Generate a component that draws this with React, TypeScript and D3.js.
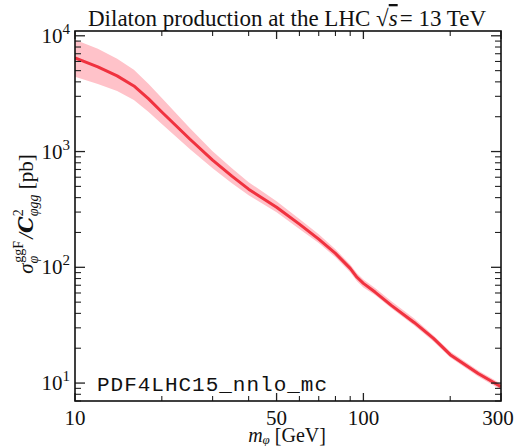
import React from "react";
import * as d3 from "d3";

const masses = [10, 12, 14, 16, 18, 20, 25, 30, 35, 40, 50, 60, 70, 80, 90, 95, 100, 110, 125, 150, 175, 200, 250, 300];
const central = [6450, 5390, 4505, 3690, 2848, 2198, 1283, 843, 613, 473, 330, 236, 175, 132, 98, 82, 72.6, 60.8, 46.9, 33.4, 24.3, 17.6, 12.1, 9.3];
const upper = [9236, 7718, 6325, 5077, 3842, 2906, 1597, 1008, 719, 544, 372, 261, 193, 143, 106, 88.8, 78.6, 65.8, 50.8, 36.2, 25.8, 18.7, 12.85, 9.88];
const lower = [4418, 3839, 3340, 2791, 2198, 1731, 1051, 719, 533, 420, 299, 214, 162, 122, 90.5, 75.7, 67.0, 57.3, 44.2, 31.4, 22.9, 16.6, 11.4, 8.76];

const xMajorTicks = [10, 50, 100, 300];
const xMinorTicks = [20, 30, 40, 60, 70, 80, 90, 200];
const yMajorExps = [1, 2, 3, 4];
const pdfLabel = "PDF4LHC15_nnlo_mc";

const W = 515, H = 446;
const L = 75, R = 501, T = 31, B = 401;
const serif = "'Liberation Serif', 'DejaVu Serif', serif";

export default function App() {
  const x = d3.scaleLog().domain([10, 300]).range([L, R]);
  const y = d3.scaleLog().domain([7, 11000]).range([B, T]);

  const rows = masses.map((m, i) => ({ m, c: central[i], u: upper[i], l: lower[i] }));
  const area = d3.area<any>().x((d) => x(d.m)).y0((d) => y(d.l)).y1((d) => y(d.u));
  const line = d3.line<any>().x((d) => x(d.m)).y((d) => y(d.c));

  const yMinor: number[] = [];
  for (let e = 0; e <= 4; e++) {
    for (let k = 2; k <= 9; k++) {
      const v = k * Math.pow(10, e);
      if (v >= 7 && v <= 11000) yMinor.push(v);
    }
  }

  const tickColor = "#222";
  return (
    <svg width={W} height={H} style={{ position: "absolute", left: 0, top: 0, background: "#fff" }}>
      <defs>
        <clipPath id="plotclip">
          <rect x={L} y={T} width={R - L} height={B - T} />
        </clipPath>
      </defs>
      <g clipPath="url(#plotclip)">
        <path d={area(rows) || ""} fill="#ffc2c9" stroke="none" />
        <path d={line(rows) || ""} fill="none" stroke="#f0323f" strokeWidth={3} strokeLinejoin="round" />
      </g>

      {/* x ticks */}
      {xMajorTicks.map((v) => (
        <g key={"xM" + v}>
          <line x1={x(v)} x2={x(v)} y1={B} y2={B - 8} stroke={tickColor} strokeWidth={1.3} />
          <line x1={x(v)} x2={x(v)} y1={T} y2={T + 8} stroke={tickColor} strokeWidth={1.3} />
          <text x={Math.min(x(v), 498)} y={425} textAnchor="middle" fontFamily={serif} fontSize={21} fill="#111">{v}</text>
        </g>
      ))}
      {xMinorTicks.map((v) => (
        <g key={"xm" + v}>
          <line x1={x(v)} x2={x(v)} y1={B} y2={B - 5} stroke={tickColor} strokeWidth={1.1} />
          <line x1={x(v)} x2={x(v)} y1={T} y2={T + 5} stroke={tickColor} strokeWidth={1.1} />
        </g>
      ))}

      {/* y ticks */}
      {yMajorExps.map((e) => {
        const v = Math.pow(10, e);
        return (
          <g key={"yM" + e}>
            <line x1={L} x2={L + 10} y1={y(v)} y2={y(v)} stroke={tickColor} strokeWidth={1.3} />
            <line x1={R} x2={R - 10} y1={y(v)} y2={y(v)} stroke={tickColor} strokeWidth={1.3} />
            <text x={70} y={y(v) + 7} textAnchor="end" fontFamily={serif} fontSize={21} fill="#111">
              10<tspan fontSize={15} dy={-9}>{e}</tspan>
            </text>
          </g>
        );
      })}
      {yMinor.map((v) => (
        <g key={"ym" + v}>
          <line x1={L} x2={L + 6} y1={y(v)} y2={y(v)} stroke={tickColor} strokeWidth={1.1} />
          <line x1={R} x2={R - 6} y1={y(v)} y2={y(v)} stroke={tickColor} strokeWidth={1.1} />
        </g>
      ))}

      <rect x={L} y={T} width={R - L} height={B - T} fill="none" stroke="#111" strokeWidth={1.6} />

      {/* title */}
      <text x={287} y={26} textAnchor="middle" fontFamily={serif} fontSize={23} fill="#111">
        Dilaton production at the LHC <tspan>√</tspan><tspan fontStyle="italic" style={{ textDecoration: "overline" }}>s</tspan>
        <tspan dx={2}>= 13 TeV</tspan>
      </text>

      {/* x label */}
      <text x={287} y={442} textAnchor="middle" fontFamily={serif} fontSize={20} fill="#111">
        <tspan fontStyle="italic">m</tspan>
        <tspan fontSize={13} fontStyle="italic" dy={2}>φ</tspan>
        <tspan dy={-2}> [GeV]</tspan>
      </text>

      {/* y label */}
      <text transform={`translate(33,214) rotate(-90)`} textAnchor="middle" fontFamily={serif} fontSize={21} fill="#111">
        <tspan fontStyle="italic">σ</tspan>
        <tspan fontSize={14} fontStyle="italic" dy={5}>φ</tspan>
        <tspan fontSize={14} dx={-7} dy={-15}>ggF</tspan>
        <tspan dy={10} dx={2} fontStyle="italic">/</tspan>
        <tspan fontStyle="italic" fontWeight="bold" fontFamily="'DejaVu Serif', serif">C</tspan>
        <tspan fontSize={14} dy={-10}>2</tspan>
        <tspan fontSize={14} fontStyle="italic" dx={-7} dy={15}>φgg</tspan>
        <tspan dy={-5}> [pb]</tspan>
      </text>

      {/* PDF label */}
      <text x={97} y={391} fontFamily="'Liberation Mono', 'DejaVu Sans Mono', monospace" fontSize={21} textLength={230} lengthAdjust="spacing" fill="#111">
        {pdfLabel}
      </text>
    </svg>
  );
}
